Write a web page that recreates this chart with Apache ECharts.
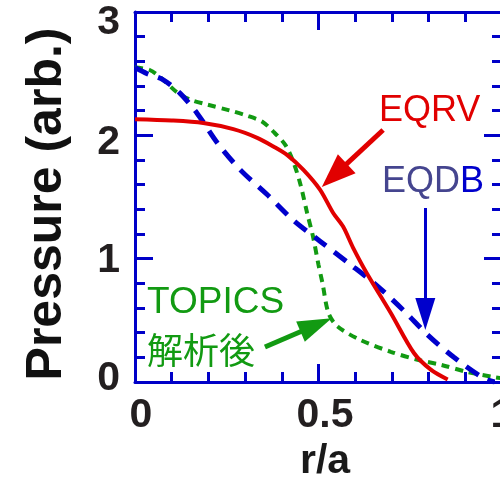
<!DOCTYPE html>
<html>
<head>
<meta charset="utf-8">
<script src="https://cdn.jsdelivr.net/npm/echarts@6/dist/echarts.min.js"></script>
<style>
  html, body { margin: 0; padding: 0; background: #fff; }
  #chart { width: 500px; height: 477px; }
</style>
</head>
<body>
<div id="chart"></div>
<script>
// Pressure profiles against normalised minor radius r/a
const eqrvR = [0, 0.1, 0.186, 0.268, 0.333, 0.377, 0.415, 0.459, 0.504, 0.54, 0.567, 0.594, 0.632, 0.697, 0.76, 0.806, 0.852];
const eqrvP = [2.13, 2.12, 2.10, 2.05, 1.98, 1.91, 1.84, 1.72, 1.56, 1.37, 1.26, 1.09, 0.88, 0.56, 0.235, 0.10, 0.02];

const eqdbR = [0, 0.033, 0.077, 0.123, 0.169, 0.224, 0.287, 0.36, 0.432, 0.505, 0.579, 0.656, 0.732, 0.798, 0.869, 0.95, 0.98];
const eqdbP = [2.55, 2.5, 2.45, 2.34, 2.18, 1.94, 1.72, 1.52, 1.31, 1.14, 0.97, 0.79, 0.58, 0.38, 0.20, 0.03, 0.0];

const topicsR = [0, 0.04, 0.077, 0.114, 0.15, 0.196, 0.26, 0.305, 0.347, 0.377, 0.41, 0.432, 0.451, 0.469, 0.485, 0.5, 0.511, 0.527, 0.552, 0.615, 0.697, 0.77, 0.833, 0.907, 0.978, 1.0];
const topicsP = [2.55, 2.53, 2.45, 2.35, 2.29, 2.25, 2.2, 2.16, 2.11, 2.03, 1.92, 1.78, 1.60, 1.37, 1.18, 0.95, 0.80, 0.56, 0.45, 0.34, 0.245, 0.18, 0.14, 0.08, 0.04, 0.03];

// Tick values and their printed labels
const xTicks = [0, 0.5, 1];
const xTickLabels = ['0', '0.5', '1'];
const yTicks = [0, 1, 2, 3];
const yTickLabels = ['0', '1', '2', '3'];

// Annotation arrows: [tail r, tail p] -> [head r, head p]
const eqrvArrow = [[0.676, 2.043], [0.543, 1.675]];
const eqdbArrow = [[0.791, 1.411], [0.791, 0.551]];
const topicsArrow = [[0.354, 0.284], [0.4935, 0.462]];

const RED = '#e10000';
const BLUE = '#0000cc';
const AXIS_BLUE = '#0000c8';
const GREEN = '#129a12';
const SLATE = '#45458f';
const TICK_TEXT = '#231f20';
const FONT = '"Liberation Sans", Arial, sans-serif';

function pairs(xs, ys) { return xs.map((x, i) => [x, ys[i]]); }

function arrow(seg, color, width, size) {
  return {
    silent: true,
    animation: false,
    symbol: ['none', 'triangle'],
    label: { show: false },
    emphasis: { disabled: true },
    lineStyle: { color: color, width: width, type: 'solid' },
    itemStyle: { color: color },
    data: [[
      { coord: seg[0], symbol: 'none' },
      { coord: seg[1], symbol: 'triangle', symbolSize: size }
    ]]
  };
}

const tickLabelStyle = { fontFamily: FONT, fontWeight: 'bold', fontSize: 41, color: TICK_TEXT };

const axisCommon = {
  type: 'value',
  axisLine: { show: true, onZero: false, lineStyle: { color: AXIS_BLUE, width: 3 } },
  axisTick: { show: true, inside: true, length: 18, lineStyle: { color: AXIS_BLUE, width: 3 } },
  minorTick: { show: true, splitNumber: 5, length: 10, lineStyle: { color: AXIS_BLUE, width: 3 } },
  splitLine: { show: false },
  minorSplitLine: { show: false }
};

const chart = echarts.init(document.getElementById('chart'), null, { renderer: 'canvas' });

chart.setOption({
  animation: false,
  backgroundColor: '#fff',
  grid: { left: 135, top: 12, width: 367, height: 370, containLabel: false, outerBoundsMode: 'none' },
  xAxis: [
    Object.assign({}, axisCommon, {
      position: 'bottom', min: 0, max: 1, interval: 0.5,
      name: 'r/a', nameLocation: 'middle', nameGap: 55,
      nameTextStyle: { fontFamily: FONT, fontWeight: 'bold', fontSize: 41, color: '#1a1a1a', padding: [0, 0, 0, 13] },
      axisLabel: Object.assign({}, tickLabelStyle, {
        margin: 13,
        formatter: v => { const i = xTicks.indexOf(v); return i < 0 ? '' : '{x' + i + '|' + xTickLabels[i] + '}'; },
        rich: {
          x0: Object.assign({}, tickLabelStyle, { padding: [0, 0, 0, 12] }),
          x1: Object.assign({}, tickLabelStyle, { padding: [0, 0, 0, 13] }),
          x2: Object.assign({}, tickLabelStyle)
        }
      })
    }),
    Object.assign({}, axisCommon, {
      position: 'top', min: 0, max: 1, interval: 0.5,
      axisLabel: { show: false }
    })
  ],
  yAxis: [
    Object.assign({}, axisCommon, {
      position: 'left', min: 0, max: 3, interval: 1,
      name: 'Pressure (arb.)', nameLocation: 'middle', nameGap: 63, nameRotate: 90,
      nameTextStyle: { fontFamily: FONT, fontWeight: 'bold', fontSize: 50, color: '#111', padding: [0, 14, 0, 0] },
      axisLabel: Object.assign({}, tickLabelStyle, {
        margin: 15,
        formatter: v => { const i = yTicks.indexOf(v); return i < 0 ? '' : '{y' + i + '|' + yTickLabels[i] + '}'; },
        rich: {
          y0: Object.assign({}, tickLabelStyle, { padding: [0, 0, 7, 0] }),
          y1: Object.assign({}, tickLabelStyle, { padding: [4, 0, 0, 0] }),
          y2: Object.assign({}, tickLabelStyle, { padding: [14, 0, 0, 0] }),
          y3: Object.assign({}, tickLabelStyle, { padding: [22, 0, 0, 0] })
        }
      })
    }),
    Object.assign({}, axisCommon, {
      position: 'right', min: 0, max: 3, interval: 1,
      axisLabel: { show: false }
    })
  ],
  series: [
    {
      name: 'TOPICS', type: 'line', data: pairs(topicsR, topicsP),
      showSymbol: false, smooth: 0.3, z: 2,
      lineStyle: { color: GREEN, width: 4, type: [8, 6] },
      markLine: arrow(topicsArrow, GREEN, 5, [22, 34])
    },
    {
      name: 'EQDB', type: 'line', data: pairs(eqdbR, eqdbP),
      showSymbol: false, smooth: 0.3, z: 3,
      lineStyle: { color: BLUE, width: 5, type: [15, 10] },
      markLine: arrow(eqdbArrow, BLUE, 3, [20, 32])
    },
    {
      name: 'EQRV', type: 'line', data: pairs(eqrvR, eqrvP),
      showSymbol: false, smooth: 0.3, z: 4,
      lineStyle: { color: RED, width: 4 },
      markLine: arrow(eqrvArrow, RED, 5, [26, 34])
    }
  ],
  graphic: [
    { type: 'text', x: 379, y: 111, style: { text: 'EQRV', fill: RED, font: '36px ' + FONT, verticalAlign: 'middle' } },
    { type: 'text', x: 382, y: 182, style: {
        text: '{a|EQD}{b|B}', verticalAlign: 'middle',
        rich: { a: { fill: SLATE, font: '36px ' + FONT }, b: { fill: BLUE, font: '36px ' + FONT } }
      } },
    { type: 'text', x: 147, y: 303, style: { text: 'TOPICS', fill: GREEN, font: '37px ' + FONT, verticalAlign: 'middle' } },
    { type: 'text', x: 147, y: 350, style: { text: '解析後', fill: GREEN, font: '36px "Noto Sans CJK JP", sans-serif', verticalAlign: 'middle' } }
  ]
});
</script>
</body>
</html>
